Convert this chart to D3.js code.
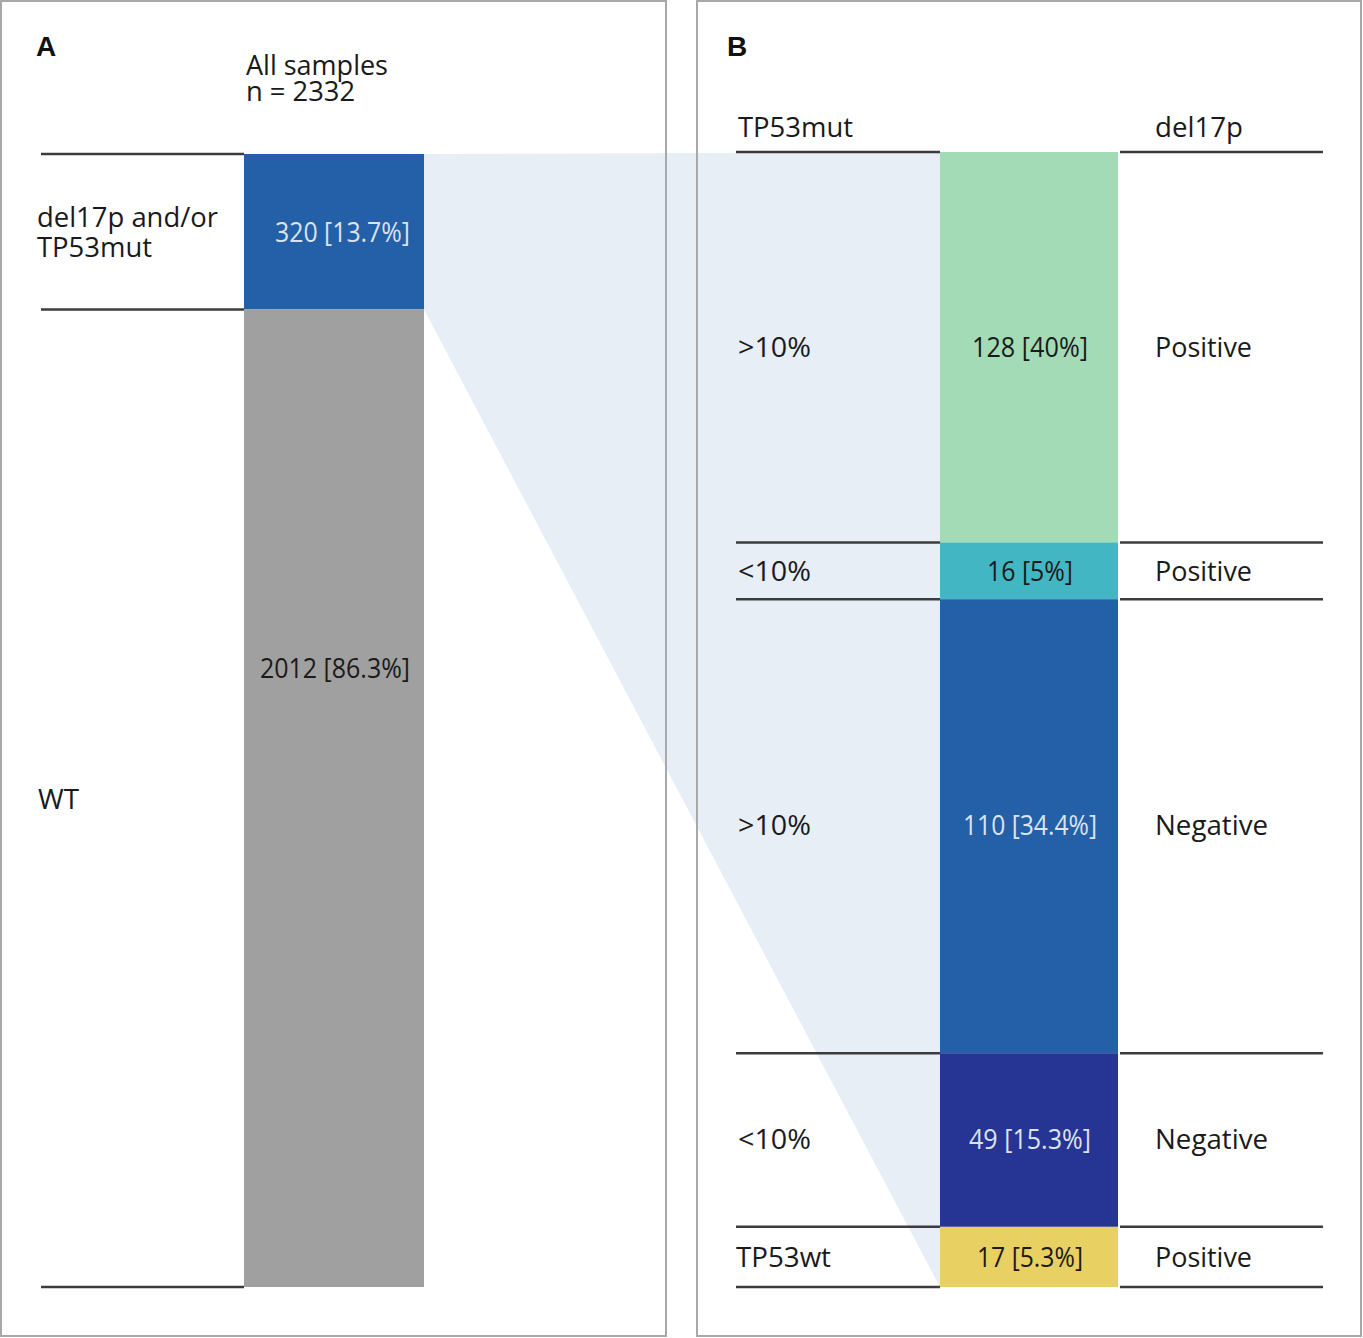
<!DOCTYPE html>
<html><head><meta charset="utf-8">
<script src="https://cdn.jsdelivr.net/npm/d3@7"></script>
<style>
html,body{margin:0;padding:0;background:#fff;}
svg{display:block;font-family:"Open Sans","Noto Sans",sans-serif;}
</style></head>
<body>
<svg id="chart" width="1363" height="1338"></svg>
<script>
// ---- data ----
const totalSamples = 2332;
const groupsA = ["del17p and/or\nTP53mut", "WT"];
const countsA = [320, 2012];
const pctA = ["13.7%", "86.3%"];

const tp53Labels = [">10%", "<10%", ">10%", "<10%", "TP53wt"];
const del17pLabels = ["Positive", "Positive", "Negative", "Negative", "Positive"];
const countsB = [128, 16, 110, 49, 17];
const pctB = ["40%", "5%", "34.4%", "15.3%", "5.3%"];
// share of the column height each segment occupies, as drawn in the picture
const drawnShareB = [34.4, 5, 40, 15.3, 5.3];

// ---- styles / layout ----
const colorsA = ["#2360a8", "#a0a0a0"];
const labelColorsA = ["#dde2ec", "#1a1a1a"];
const colorsB = ["#a2dbb5", "#43b6c4", "#2360a8", "#263594", "#e8d062"];
const labelColorsB = ["#1a1a1a", "#1a1a1a", "#dde2ec", "#dde2ec", "#1a1a1a"];
const valueWidthsA = [135, 150];
const valueWidthsB = [116, 86, 134, 122, 106];

const svg = d3.select("#chart");
const lineColor = "#3c3c3c";
const borderColor = "#a8a8a8";

const yA = d3.scaleLinear().domain([0, totalSamples]).range([154, 1287]);
const xA = {x0: 244, x1: 424};
const yB = d3.scaleLinear().domain([0, 100]).range([152, 1287]);
const xB = {x0: 940, x1: 1118};

const stackA = [];
{ let c = 0; countsA.forEach((v, i) => { stackA.push({y0: c, y1: c + v, i}); c += v; }); }
const stackB = [];
{ let c = 0; drawnShareB.forEach((v, i) => { stackB.push({y0: c, y1: c + v, i}); c += v; }); }

// connecting polygon
const sub = stackA[0];
svg.append("path")
  .attr("d", d3.line()([
    [xA.x1, yA(sub.y0)], [xB.x0, yB(0)], [xB.x0, yB(100)], [xA.x1, yA(sub.y1)]
  ]) + "Z")
  .attr("fill", "#e7eef6");

// borders
svg.append("rect").attr("x", 1).attr("y", 1).attr("width", 665).attr("height", 1335)
  .attr("fill", "none").attr("stroke", borderColor).attr("stroke-width", 2);
svg.append("rect").attr("x", 697).attr("y", 1).attr("width", 664).attr("height", 1335)
  .attr("fill", "none").attr("stroke", borderColor).attr("stroke-width", 2);

// panel letters
svg.append("text").attr("x", 36).attr("y", 56).text("A")
  .attr("font-family", "Liberation Sans, Arial, sans-serif").attr("font-weight", "bold")
  .attr("font-size", 28).attr("fill", "#111");
svg.append("text").attr("x", 727).attr("y", 56).text("B")
  .attr("font-family", "Liberation Sans, Arial, sans-serif").attr("font-weight", "bold")
  .attr("font-size", 28).attr("fill", "#111");

function txt(x, y, s, w, opts = {}) {
  const t = svg.append("text").attr("x", x).attr("y", y).text(s)
    .attr("font-size", opts.size || 27).attr("fill", opts.fill || "#1a1a1a")
    .attr("text-anchor", opts.anchor || "start");
  if (w) t.attr("textLength", w).attr("lengthAdjust", "spacingAndGlyphs");
  return t;
}

// Panel A header
txt(246, 75, "All samples", 142);
txt(246, 101, "n = 2332", 109);

// Panel A bars
svg.append("g").selectAll("rect").data(stackA).join("rect")
  .attr("x", xA.x0).attr("width", xA.x1 - xA.x0)
  .attr("y", d => yA(d.y0)).attr("height", d => yA(d.y1) - yA(d.y0))
  .attr("fill", d => colorsA[d.i]);

// Panel A separators
const sepA = [0, countsA[0], totalSamples];
svg.append("g").selectAll("line").data(sepA).join("line")
  .attr("x1", 41).attr("x2", xA.x0).attr("y1", d => yA(d)).attr("y2", d => yA(d))
  .attr("stroke", lineColor).attr("stroke-width", 2.5);

// Panel A value labels
stackA.forEach(d => {
  const cy = d.i === 0 ? (yA(d.y0) + yA(d.y1)) / 2 : 668;
  txt(410, cy + 10, `${countsA[d.i]} [${pctA[d.i]}]`, valueWidthsA[d.i],
      {anchor: "end", fill: labelColorsA[d.i]});
});
// Panel A group labels
txt(37, 227, "del17p and/or", 181);
txt(37, 257, "TP53mut", 115);
txt(38, 809, "WT", 41);

// Panel B header
txt(738, 137, "TP53mut", 115);
txt(1155, 137, "del17p", 88);

// Panel B bars
svg.append("g").selectAll("rect").data(stackB).join("rect")
  .attr("x", xB.x0).attr("width", xB.x1 - xB.x0)
  .attr("y", d => yB(d.y0)).attr("height", d => yB(d.y1) - yB(d.y0))
  .attr("fill", d => colorsB[d.i]);

// Panel B separators
const sepB = [0].concat(stackB.map(d => d.y1));
const sepG = svg.append("g");
sepG.selectAll("line.l").data(sepB).join("line").attr("class", "l")
  .attr("x1", 736).attr("x2", xB.x0).attr("y1", d => yB(d)).attr("y2", d => yB(d))
  .attr("stroke", lineColor).attr("stroke-width", 2.5);
sepG.selectAll("line.r").data(sepB).join("line").attr("class", "r")
  .attr("x1", xB.x1 + 2).attr("x2", 1323).attr("y1", d => yB(d)).attr("y2", d => yB(d))
  .attr("stroke", lineColor).attr("stroke-width", 2.5);

// Panel B labels
const centersB = [347, 571, 825, 1139, 1257];
const tpWidths = [73, 73, 73, 73, 95];
const delWidths = [97, 97, 113, 113, 97];
stackB.forEach(d => {
  const cy = centersB[d.i];
  txt(d.i === 4 ? 736 : 738, cy + 10, tp53Labels[d.i], tpWidths[d.i]);
  txt((xB.x0 + xB.x1) / 2 + 1, cy + 10, `${countsB[d.i]} [${pctB[d.i]}]`, valueWidthsB[d.i],
      {anchor: "middle", fill: labelColorsB[d.i]});
  txt(1155, cy + 10, del17pLabels[d.i], delWidths[d.i]);
});
</script>
</body></html>
